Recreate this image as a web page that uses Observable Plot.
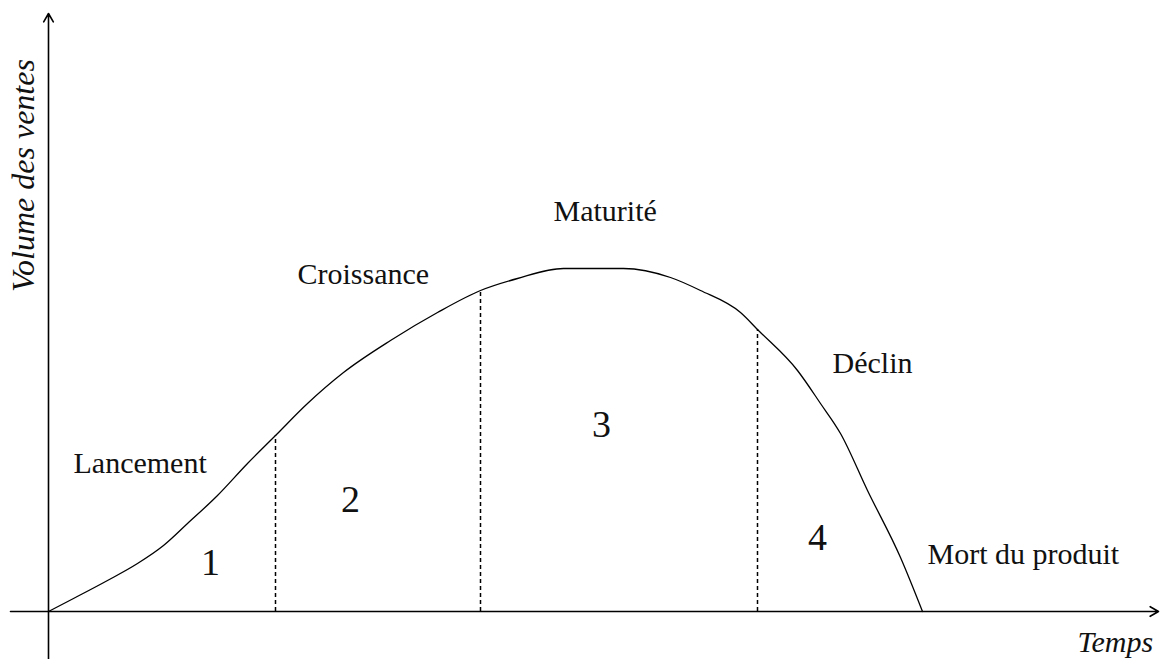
<!DOCTYPE html>
<html>
<head>
<meta charset="utf-8">
<script src="https://cdn.jsdelivr.net/npm/d3@7"></script>
<script src="https://cdn.jsdelivr.net/npm/@observablehq/plot@0.6"></script>
<style>
  html, body { margin: 0; padding: 0; background: #fff; }
  #chart svg { display: block; background: #fff; }
</style>
</head>
<body>
<div id="chart"></div>
<script>
// Product life cycle: time (arbitrary units) vs sales volume (arbitrary units)
const curveTime   = [0, 2.5, 5.9, 8.9, 11.5, 13.9, 16.9, 19.9, 22.7, 25.9, 29.5, 34.2, 38.9, 43.2, 46.9, 51.5, 57.5, 62.2, 65.2, 69.2, 71.0, 74.9, 77.2, 79.2, 81.9, 85.2, 87.4];
const curveVolume = [0, 3.25, 7.75, 12, 16.5, 22, 29, 37, 44, 52, 59.75, 67.75, 74.75, 80.25, 83.25, 85.75, 85.75, 83.5, 80.25, 74.75, 70.25, 60.25, 52, 44.5, 30.25, 13.5, 0];

// Phase boundaries (time) and the curve height there
const boundaryTime   = [22.7, 43.2, 70.9];
const boundaryVolume = [44, 80.25, 70.5];

// Phase names and their anchor points
const phaseNames  = ["Lancement", "Croissance", "Maturité", "Déclin", "Mort du produit"];
const phaseTime   = [2.5, 24.9, 50.5, 78.4, 87.9];
const phaseVolume = [37, 84.4, 100.15, 62.15, 14.4];

// Phase numbers
const phaseNumbers = ["1", "2", "3", "4"];
const numberTime   = [16.2, 30.2, 55.3, 76.9];
const numberVolume = [12.05, 27.8, 46.55, 18.3];

// Axis titles
const xTitle = "Temps";
const yTitle = "Volume des ventes";

const curve = curveTime.map((t, i) => ({t, v: curveVolume[i]}));
const bounds = boundaryTime.map((t, i) => ({t, v: boundaryVolume[i]}));
const phases = phaseNames.map((name, i) => ({name, t: phaseTime[i], v: phaseVolume[i]}));
const numbers = phaseNumbers.map((n, i) => ({n, t: numberTime[i], v: numberVolume[i]}));

const serif = "'Liberation Serif', 'Times New Roman', serif";

const chart = Plot.plot({
  width: 1160,
  height: 659,
  marginLeft: 48,
  marginRight: 2,
  marginTop: 11,
  marginBottom: 48,
  style: {background: "#fff", color: "#000"},
  x: {domain: [0, 111], axis: null},
  y: {domain: [0, 150], axis: null},
  marks: [
    // axes with arrowheads
    Plot.arrow([0], {x1: -3.8, y1: 0, x2: 111, y2: 0, stroke: "#000", strokeWidth: 1.6, headLength: 9, bend: 0}),
    Plot.arrow([0], {x1: 0, y1: -12.5, x2: 0, y2: 149.5, stroke: "#000", strokeWidth: 1.6, headLength: 9, bend: 0}),
    // phase boundaries
    Plot.ruleX(bounds, {x: "t", y1: 0, y2: "v", stroke: "#000", strokeWidth: 1.5, strokeDasharray: "4,3"}),
    // life-cycle curve
    Plot.line(curve, {x: "t", y: "v", curve: "monotone-x", stroke: "#000", strokeWidth: 1.3}),
    // phase names
    Plot.text(phases, {x: "t", y: "v", text: "name", textAnchor: "start", fontFamily: serif, fontSize: 30, fill: "#111"}),
    // phase numbers
    Plot.text(numbers, {x: "t", y: "v", text: "n", textAnchor: "middle", fontFamily: serif, fontSize: 38, fill: "#111"}),
    // axis titles
    Plot.text([xTitle], {x: 102.9, y: -7.75, text: d => d, textAnchor: "start", fontFamily: serif, fontStyle: "italic", fontSize: 30, fill: "#111"}),
    Plot.text([yTitle], {x: -2.45, y: 109, text: d => d, rotate: -90, textAnchor: "middle", fontFamily: serif, fontStyle: "italic", fontSize: 32, fill: "#111"})
  ]
});

document.getElementById("chart").appendChild(chart);
</script>
</body>
</html>
